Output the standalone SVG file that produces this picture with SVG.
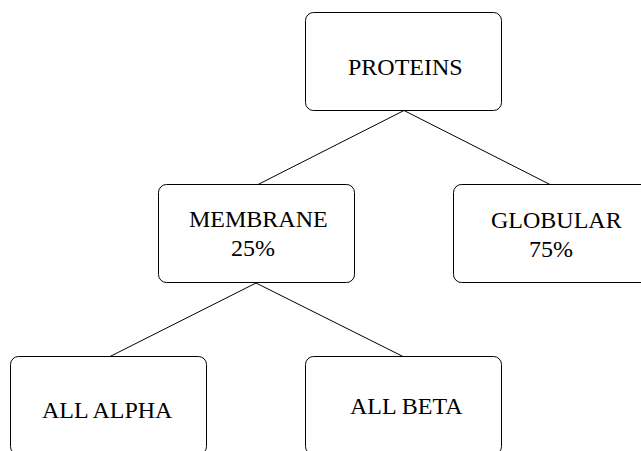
<svg xmlns="http://www.w3.org/2000/svg" width="641" height="451" viewBox="0 0 641 451">
  <style>
    .box { fill: #ffffff; stroke: #000000; stroke-width: 1; }
    .lbl { font-family: "Liberation Serif", "Times New Roman", serif; font-size: 24px; fill: #000000; }
    .edge { stroke: #000000; stroke-width: 1; fill: none; }
  </style>
  <rect width="641" height="451" fill="#ffffff"/>
  <g id="connectors">
    <line class="edge" x1="404" y1="110.5" x2="258" y2="184.5"/>
    <line class="edge" x1="404" y1="110.5" x2="550" y2="184.5"/>
    <line class="edge" x1="256" y1="283" x2="110" y2="356.5"/>
    <line class="edge" x1="256" y1="283" x2="403" y2="356.5"/>
  </g>
  <g id="proteins">
    <rect class="box" x="305.5" y="12.5" width="196" height="98" rx="8"/>
    <text class="lbl" x="348" y="75">PROTEINS</text>
  </g>
  <g id="membrane">
    <rect class="box" x="158.5" y="184.5" width="196" height="98" rx="8"/>
    <text class="lbl" x="189" y="227">MEMBRANE</text>
    <text class="lbl" x="231" y="256">25%</text>
  </g>
  <g id="globular">
    <rect class="box" x="453.5" y="184.5" width="196" height="98" rx="8"/>
    <text class="lbl" x="491" y="228">GLOBULAR</text>
    <text class="lbl" x="529" y="257">75%</text>
  </g>
  <g id="all-alpha">
    <rect class="box" x="10.5" y="356.5" width="196" height="98" rx="8"/>
    <text class="lbl" x="42" y="418">ALL ALPHA</text>
  </g>
  <g id="all-beta">
    <rect class="box" x="305.5" y="356.5" width="196" height="98" rx="8"/>
    <text class="lbl" x="350" y="414">ALL BETA</text>
  </g>
</svg>
